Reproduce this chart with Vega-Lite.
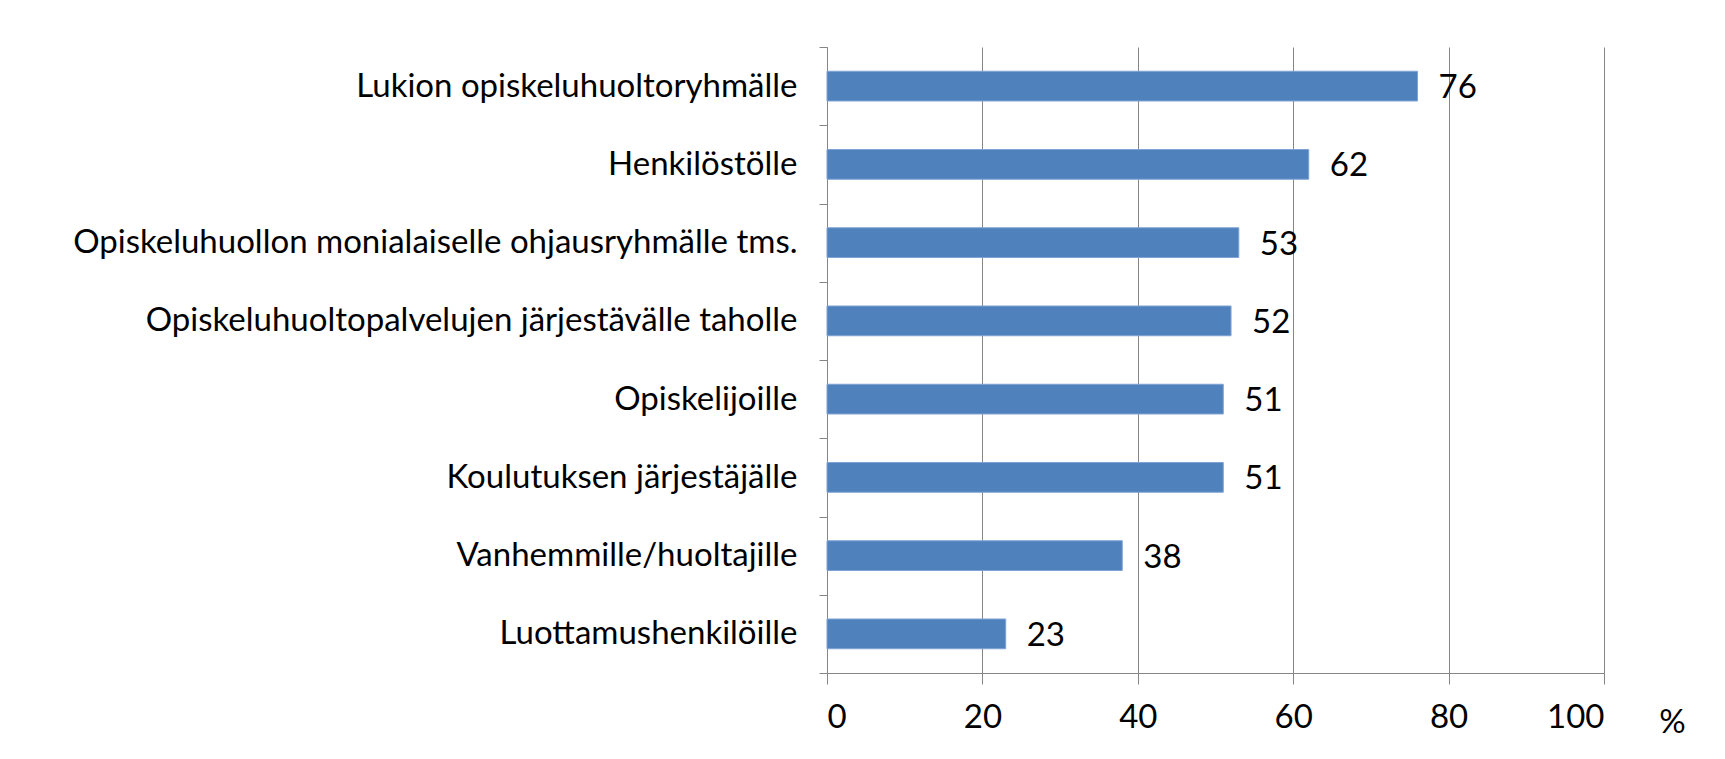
{
  "$schema": "https://vega.github.io/schema/vega-lite/v6.json",
  "autosize": "none",
  "width": 777,
  "height": 626,
  "padding": {"left": 827, "top": 47, "right": 121, "bottom": 86},
  "background": "white",
  "data": {
    "values": [
      {"kohde": "Lukion opiskeluhuoltoryhmälle", "osuus": 76},
      {"kohde": "Henkilöstölle", "osuus": 62},
      {"kohde": "Opiskeluhuollon monialaiselle ohjausryhmälle tms.", "osuus": 53},
      {"kohde": "Opiskeluhuoltopalvelujen järjestävälle taholle", "osuus": 52},
      {"kohde": "Opiskelijoille", "osuus": 51},
      {"kohde": "Koulutuksen järjestäjälle", "osuus": 51},
      {"kohde": "Vanhemmille/huoltajille", "osuus": 38},
      {"kohde": "Luottamushenkilöille", "osuus": 23}
    ]
  },
  "encoding": {
    "y": {
      "field": "kohde",
      "type": "nominal",
      "sort": null,
      "scale": {"paddingInner": 0, "paddingOuter": 0},
      "axis": {
        "title": null,
        "domainColor": "#868686",
        "tickColor": "#868686",
        "tickSize": 8,
        "tickBand": "extent",
        "labelPadding": 22,
        "labelFont": "Lato",
        "labelFontSize": 33,
        "labelColor": "#000000",
        "labelLimit": 900,
        "grid": false
      }
    },
    "x": {
      "field": "osuus",
      "type": "quantitative",
      "scale": {"domain": [0, 100], "nice": false},
      "axis": {
        "values": [0, 20, 40, 60, 80, 100],
        "title": "%",
        "titleX": 845,
        "titleY": 49,
        "titleBaseline": "middle",
        "titleAlign": "center",
        "titleAnchor": null,
        "titleFont": "Lato",
        "titleFontSize": 33,
        "titleFontWeight": "normal",
        "titleColor": "#000000",
        "domainColor": "#868686",
        "tickColor": "#868686",
        "tickSize": 11,
        "labelPadding": 17,
        "labelFont": "Lato",
        "labelFontSize": 33,
        "labelColor": "#000000",
        "grid": true,
        "gridColor": "#868686",
        "gridWidth": 1
      }
    }
  },
  "layer": [
    {
      "mark": {"type": "bar", "color": "#4F81BD", "stroke": "#7FA3D3", "strokeWidth": 1, "height": {"band": 0.38}}
    },
    {
      "mark": {
        "type": "text",
        "align": "left",
        "baseline": "middle",
        "dx": 21,
        "dy": 2,
        "font": "Lato",
        "fontSize": 33,
        "color": "#000000"
      },
      "encoding": {"text": {"field": "osuus", "type": "quantitative"}}
    }
  ],
  "config": {
    "view": {"stroke": null}
  }
}
